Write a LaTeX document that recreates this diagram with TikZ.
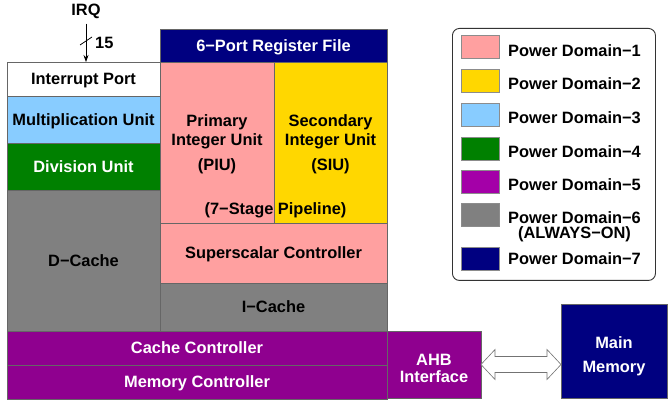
\documentclass[tikz,border=0pt]{standalone}
\usepackage{fontspec}
\setmainfont{Liberation Sans}
\usetikzlibrary{calc,arrows.meta}
\definecolor{pdone}{HTML}{FFA0A0}
\definecolor{pdtwo}{HTML}{FFD700}
\definecolor{pdthree}{HTML}{88CCFF}
\definecolor{pdfour}{HTML}{008000}
\definecolor{pdfive}{HTML}{8F008F}
\definecolor{pdfivekey}{HTML}{A400A8}
\definecolor{pdsix}{HTML}{808080}
\definecolor{pdseven}{HTML}{000080}
\newcommand{\topstrut}{\rule{0pt}{19.8pt}}
\begin{document}
\begin{tikzpicture}[x=1pt,y=-1pt,
  font=\fontsize{16.4}{19}\selectfont\bfseries,
  blk/.style={draw=black!60, line width=0.6pt, anchor=north west,
    inner sep=0pt, outer sep=0pt, align=center, text depth=0pt},
  swatch/.style={draw=black!45, line width=0.6pt, anchor=west,
    minimum width=38pt, minimum height=23pt, inner sep=0pt},
  keytext/.style={anchor=west, inner sep=0pt, align=center,
    font=\fontsize{16.4}{15}\selectfont\bfseries},
  hollow/.style={draw=black!55, fill=white, line width=0.6pt, line join=miter}]
\useasboundingbox (0,0) rectangle (669,403);
\fill[white] (0,0) rectangle (669,403);

% left column
\node[blk, fill=white, minimum width=153pt, minimum height=34pt] (ip) at (7,62) {Interrupt Port};
\node[blk, fill=pdthree, minimum width=153pt, minimum height=47pt] (mul) at (7,96) {Multiplication Unit};
\node[blk, fill=pdfour, text=white, minimum width=153pt, minimum height=47pt] (div) at (7,143) {Division Unit};
\node[blk, fill=pdsix, minimum width=153pt, minimum height=141pt] (dc) at (7,190) {D−Cache};

% core
\node[blk, fill=pdseven, text=white, minimum width=227pt, minimum height=33pt] (rf) at (160,29) {6−Port Register File};
\node[blk, fill=pdone, minimum width=114pt, minimum height=161pt] (piu) at (160,62)
  {Primary\\Integer Unit\\[6pt](PIU)};
\node[blk, fill=pdtwo, minimum width=113pt, minimum height=161pt] (siu) at (274,62)
  {Secondary\\Integer Unit\\[6pt](SIU)};
\node[inner sep=0pt, text depth=0pt] (pipe) at (275.5,209) {(7−Stage Pipeline)};
\node[blk, fill=pdone, minimum width=227pt, minimum height=60pt] (ssc) at (160,223) {Superscalar Controller};
\node[blk, fill=pdsix, minimum width=227pt, minimum height=48pt] (ic) at (160,283) {I−Cache};

% bus side
\node[blk, fill=pdfive, text=white, minimum width=380pt, minimum height=34pt] (cc) at (7,331) {Cache Controller};
\node[blk, fill=pdfive, text=white, minimum width=380pt, minimum height=34pt] (mc) at (7,365) {Memory Controller};
\node[blk, fill=pdfive, text=white, minimum width=94pt, minimum height=67pt,
  font=\fontsize{16.4}{17}\selectfont\bfseries] (ahb) at (387,331) {\topstrut AHB\\Interface};
\node[blk, fill=pdseven, text=white, minimum width=106pt, minimum height=94pt,
  font=\fontsize{16.4}{24}\selectfont\bfseries] (mm) at (561,304) {\topstrut Main\\Memory};

% interrupt request bus
\node[inner sep=0pt] (irq) at (86,11) {IRQ};
\draw[line width=0.7pt, -{Stealth[length=7pt,width=5pt]}]
  ($(irq.south)+(0,5)$) coordinate (irqtop) -- (irqtop |- ip.north);
\coordinate (bus) at (86,41);
\draw[line width=0.7pt] ($(bus)+(-6,4)$) -- ($(bus)+(6,-4)$);
\node[inner sep=0pt, anchor=west] (width) at (95,43) {15};

% bidirectional link to main memory
\coordinate (al) at (ahb.east);
\coordinate (ar) at (ahb.east -| mm.west);
\draw[hollow] (al) -- ++(14,-15) -- ++(0,7) -- ($(ar)+(-14,-8)$) -- ++(0,-7)
  -- (ar) -- ++(-14,15) -- ++(0,-7) -- ($(al)+(14,8)$) -- ++(0,7) -- cycle;

% key
\node[draw=black!80, line width=0.9pt, rounded corners=7pt, anchor=north west,
  minimum width=203pt, minimum height=252pt, inner sep=0pt] (key) at (452,28) {};
\node[swatch, fill=pdone] (k1) at (461,46.5) {};
\node[swatch, fill=pdtwo] (k2) at (461,81) {};
\node[swatch, fill=pdthree] (k3) at (461,115) {};
\node[swatch, fill=pdfour] (k4) at (461,148.5) {};
\node[swatch, fill=pdfivekey] (k5) at (461,182) {};
\node[swatch, fill=pdsix] (k6) at (461,215) {};
\node[swatch, fill=pdseven] (k7) at (461,258.5) {};
\node[keytext] (t1) at (508,51) {Power Domain−1};
\node[keytext] (t2) at (508,84) {Power Domain−2};
\node[keytext] (t3) at (508,118) {Power Domain−3};
\node[keytext] (t4) at (508,152) {Power Domain−4};
\node[keytext] (t5) at (508,185) {Power Domain−5};
\node[keytext] (t6) at (508,227) {Power Domain−6\\(ALWAYS−ON)};
\node[keytext] (t7) at (508,259) {Power Domain−7};
\end{tikzpicture}
\end{document}
